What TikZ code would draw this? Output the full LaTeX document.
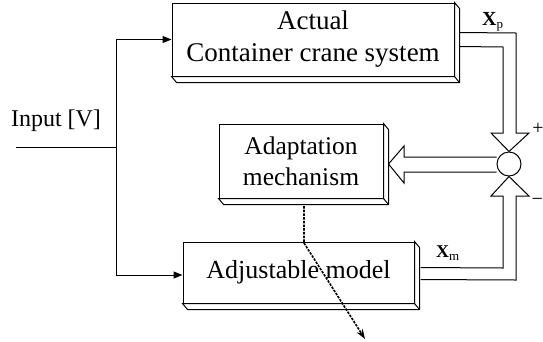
\documentclass[tikz,border=0pt]{standalone}
\usepackage{fontspec}
\setmainfont{Liberation Serif}
\usetikzlibrary{arrows.meta,calc}
\tikzset{
  blk/.style={draw,line width=1pt,fill=white,rectangle,inner sep=0pt,align=center},
  ln/.style={line width=1pt},
  arr/.style={ln,-{Triangle[length=9pt,width=7pt]}},
  hollow/.style={line width=1pt,line join=miter},
  adj/.style={line width=1.6pt,dash pattern=on 2.5pt off 1.2pt,-{Stealth[length=10pt,width=7pt]}},
  lbl/.style={inner sep=0pt,font=\fontsize{24}{27}\selectfont},
}
\newcommand{\extrude}[1]{%
  \draw[line width=1pt,line join=miter,fill=white] (#1.north east) -- ++(5,6) -- ($(#1.south east)+(5,6)$) -- ($(#1.south west)+(5,6)$) -- (#1.south west) -- (#1.south east) -- cycle;
  \draw[line width=1pt] (#1.south east) -- ++(5,6);
}
\begin{document}
\begin{tikzpicture}[x=1pt,y=-1pt]
\useasboundingbox (0,0) rectangle (543,341);
% blocks
\node[blk,minimum width=282pt,minimum height=73pt,font=\fontsize{27}{32}\selectfont] (plant) at (313,39.5) {Actual\\Container crane system};
\extrude{plant}
\node[blk,minimum width=164pt,minimum height=74pt,font=\fontsize{25.5}{31}\selectfont] (adapt) at (301,161) {Adaptation\\mechanism};
\extrude{adapt}
\node[blk,minimum width=231pt,minimum height=61pt,font=\fontsize{26}{31}\selectfont] (model) at (298.5,272.5) {Adjustable model};
\extrude{model}
% summing junction
\node[draw,circle,line width=1pt,minimum size=24pt,inner sep=0pt] (sum) at (509,164) {};
% input
\coordinate (in) at (16,147);
\coordinate (split) at (116,147);
\node[lbl] (inlbl) at (56,121) {Input [V]};
\draw[ln] (in) -- (split);
\draw[arr] (split) |- (plant.west);
\draw[arr] (split) |- ($(model.west)+(0,2.5)$);
% hollow arrow from plant to sum (+)
\draw[hollow] ($(plant.north east)+(5,30)$) -- (516,33) -- (516,133) -- (529,133) -- (sum.north) -- (491,133) -- (503,133) -- (503,47) -- ($(plant.north east)+(5,44)$);
% hollow arrow from model to sum (-)
\draw[hollow] ($(model.north east)+(6,38)$) -- (516,280) -- (516,196) -- (529,196) -- (sum.south) -- (491,196) -- (503,196) -- (503,268) -- ($(model.north east)+(6,26)$);
% hollow arrow from sum to adaptation
\draw[hollow] (sum.west |- 0,157) -- (404,157) -- (404,146) -- ($(adapt.east)+(5,3)$) -- (404,183) -- (404,172) -- (sum.west |- 0,172);
% adjustment arrow
\coordinate (a1) at (304,206);
\coordinate (a2) at (304,243);
\coordinate (a3) at (365,339);
\draw[adj] (a1) -- (a2) -- (a3);
% labels
\node[inner sep=0pt,anchor=base west] (xp) at (482,25) {\fontsize{20}{20}\selectfont\textbf{X}\fontsize{13}{13}\selectfont\raisebox{-3pt}{p}};
\node[inner sep=0pt,anchor=base west] (xm) at (436,257) {\fontsize{18}{18}\selectfont\textbf{X}\fontsize{13}{13}\selectfont\raisebox{-3pt}{m}};
\node[lbl,font=\fontsize{20}{20}\selectfont] (plus) at (538,129) {+};
\node[lbl,font=\fontsize{20}{20}\selectfont,anchor=east] (minus) at (543,202) {−};
\end{tikzpicture}
\end{document}
